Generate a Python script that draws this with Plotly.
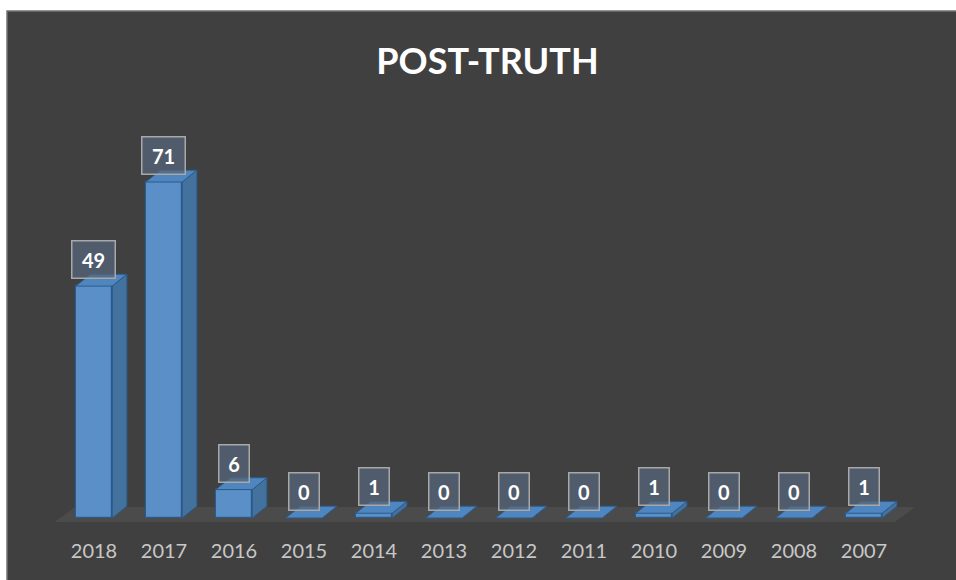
import plotly.graph_objects as go

years = ["2018", "2017", "2016", "2015", "2014", "2013", "2012", "2011", "2010", "2009", "2008", "2007"]
counts = [49, 71, 6, 0, 1, 0, 0, 0, 1, 0, 0, 1]
title_text = "POST-TRUTH"

# 3D look parameters (in axis units)
BW = 0.52      # bar width
DX = 0.21      # depth offset in x
DY = 2.5       # depth offset in y

xs = list(range(len(years)))

BG = "#404040"
FRONT = "#5a8fc8"
SIDE = "#44729f"
TOP = "#4f86bf"
EDGE = "#2c5b8a"
FLOOR = "#4b4b4b"

W, H = 956, 580
ML, MR, MT, MB = 55, 36, 120, 50
PW, PH = W - ML - MR, H - MT - MB

fig = go.Figure()

# chart frame
fig.add_shape(type="rect", xref="paper", yref="paper",
              x0=(7 - ML) / PW, x1=(W + 10 - ML) / PW,
              y0=-(MB + 20) / PH, y1=(H - MB - 11) / PH,
              fillcolor=BG, line=dict(color="#737373", width=1.5), layer="below")

# floor (below all traces)
fx0, fx1, fy0 = -0.56, 11.44, -0.85
fdx, fdy = 0.29, 2.3
fig.add_shape(type="path", xref="x", yref="y", layer="below",
              path="M %f,%f L %f,%f L %f,%f L %f,%f Z" % (fx0, fy0, fx1, fy0, fx1 + fdx, fdy, fx0 + fdx, fdy),
              fillcolor=FLOOR, line=dict(width=0))

# side and top faces
sx, sy = [], []
tx, ty = [], []
for x, v in zip(xs, counts):
    r = x + BW / 2
    l = x - BW / 2
    sx += [r, r + DX, r + DX, r, r, None]
    sy += [0, DY, v + DY, v, 0, None]
    tx += [l, r, r + DX, l + DX, l, None]
    ty += [v, v, v + DY, v + DY, v, None]

fig.add_trace(go.Scatter(x=sx, y=sy, fill="toself", fillcolor=SIDE, mode="lines",
                         line=dict(color=EDGE, width=1), hoverinfo="skip", showlegend=False))
fig.add_trace(go.Scatter(x=tx, y=ty, fill="toself", fillcolor=TOP, mode="lines",
                         line=dict(color=EDGE, width=1), hoverinfo="skip", showlegend=False))

# front faces
fig.add_trace(go.Bar(x=xs, y=counts, width=BW, marker=dict(color=FRONT, line=dict(color=EDGE, width=1.2)),
                     showlegend=False, hoverinfo="x+y"))

# value labels
for x, v in zip(xs, counts):
    s = str(v)
    fig.add_annotation(x=x, y=v, text="<b>%s</b>" % s, showarrow=False,
                       yanchor="bottom", yshift=7,
                       font=dict(family="Lato, Open Sans, sans-serif", size=20, color="white"),
                       bgcolor="rgba(86,102,122,0.75)", bordercolor="#a8a8a8", borderwidth=1.5,
                       borderpad=6, width=13 * len(s) + 4)

fig.update_layout(
    width=W, height=H,
    margin=dict(l=ML, r=MR, t=MT, b=MB),
    paper_bgcolor="white", plot_bgcolor="rgba(0,0,0,0)",
    title=dict(text="<b>%s</b>" % title_text, x=0.5, xref="paper", xanchor="center",
               y=1 - 61 / H, yref="container", yanchor="middle",
               font=dict(family="Lato, Open Sans, sans-serif", size=36, color="white")),
    xaxis=dict(range=[-0.557, 11.8], tickvals=xs, ticktext=years, showgrid=False, zeroline=False,
               showline=False, ticks="outside", ticklen=3, tickcolor="rgba(0,0,0,0)",
               tickfont=dict(family="Lato, Open Sans, sans-serif", size=20, color="#c8c8c8")),
    yaxis=dict(range=[-2.54, 84.1], visible=False),
    bargap=0,
)

fig.write_html("out.html", config={"displayModeBar": False},
               post_script="document.body.style.margin='0';document.body.style.overflow='hidden';")
